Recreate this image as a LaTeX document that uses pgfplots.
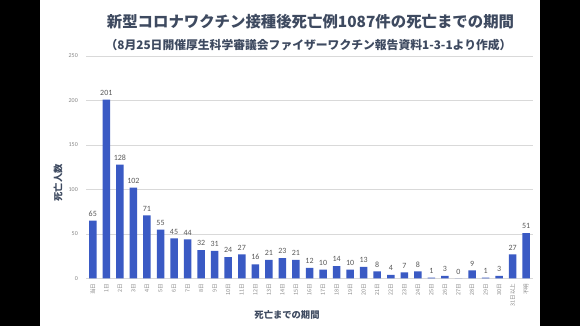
\documentclass[border=0pt]{standalone}
\usepackage{pgfplots}
\pgfplotsset{compat=1.18}
\usepackage{fontspec}
\setmainfont{Noto Sans CJK JP}
\newfontfamily\calibri{Carlito}
\definecolor{barblue}{RGB}{58,90,196}
\definecolor{titlec}{RGB}{62,74,96}
\definecolor{tickc}{RGB}{135,135,135}
\definecolor{labc}{RGB}{89,89,89}
\definecolor{gridc}{RGB}{217,217,217}
\begin{document}
\begin{tikzpicture}
\useasboundingbox (0pt,0pt) rectangle (580pt,326pt);
\fill[white] (0pt,0pt) rectangle (580pt,326pt);
\fill[black] (0pt,0pt) rectangle (40pt,326pt);
\fill[black] (540pt,0pt) rectangle (580pt,326pt);
\begin{axis}[
  at={(86pt,47.5pt)}, anchor=south west,
  scale only axis, width=447pt, height=222.5pt,
  ybar, bar width=7.5pt,
  xmin=-0.5, xmax=32.5, ymin=0, ymax=250,
  xtick={0,...,32},
  xticklabels={当日,1日,2日,3日,4日,5日,6日,7日,8日,9日,10日,11日,12日,13日,14日,15日,16日,17日,18日,19日,20日,21日,22日,23日,24日,25日,26日,27日,28日,29日,30日,31日以上,不明},
  ytick={0,50,100,150,200,250},
  ymajorgrids, grid style={gridc, line width=0.6pt},
  axis line style={draw=none},
  major tick length=0pt,
  /pgf/number format/assume math mode=true,
  xticklabel style={rotate=90, anchor=east, inner sep=0pt, font=\fontsize{5.5}{6}\selectfont, text=tickc, xshift=-5pt},
  yticklabel style={inner sep=0pt, xshift=-8pt, font=\calibri\fontsize{6}{6}\selectfont, text=tickc},
  nodes near coords,
  nodes near coords style={font=\calibri\fontsize{8}{8}\selectfont, text=labc, inner sep=0pt, anchor=south, yshift=4pt},
  clip=false,
]
\addplot[fill=barblue, draw=none] coordinates {
(0,65) (1,201) (2,128) (3,102) (4,71) (5,55) (6,45) (7,44) (8,32) (9,31)
(10,24) (11,27) (12,16) (13,21) (14,23) (15,21) (16,12) (17,10) (18,14) (19,10)
(20,13) (21,8) (22,4) (23,7) (24,8) (25,1) (26,3) (27,0) (28,9) (29,1)
(30,3) (31,27) (32,51)};
\end{axis}
\node[text=titlec, font=\fontsize{15.4}{17}\selectfont\bfseries] at (310.5pt,304.3pt) {新型コロナワクチン接種後死亡例1087件の死亡までの期間};
\node[text=titlec, font=\fontsize{11.8}{13}\selectfont\bfseries] at (308.5pt,281pt) {（8月25日開催厚生科学審議会ファイザーワクチン報告資料1-3-1より作成）};
\node[text=titlec, font=\fontsize{9.3}{10}\selectfont\bfseries, rotate=90] at (58pt,143pt) {死亡人数};
\node[text=titlec, font=\fontsize{9.3}{10}\selectfont\bfseries] at (287pt,11pt) {死亡までの期間};
\end{tikzpicture}
\end{document}
